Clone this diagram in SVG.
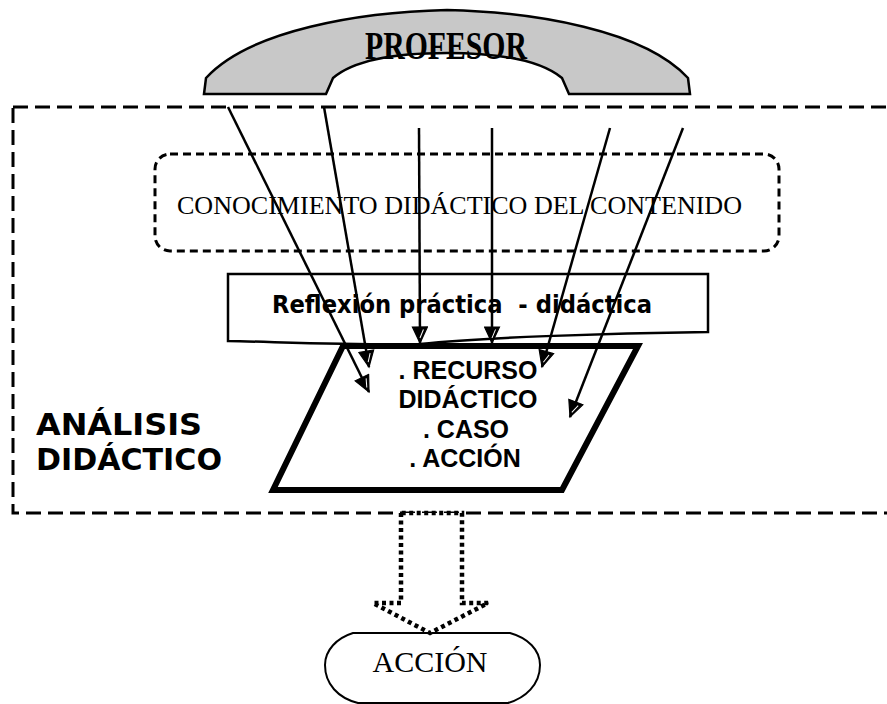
<svg xmlns="http://www.w3.org/2000/svg" width="887" height="704" viewBox="0 0 887 704">
<style>
.serif{font-family:"Liberation Serif","Times New Roman",serif;fill:#000}
.sans{font-family:"Liberation Sans",Arial,sans-serif;font-weight:bold;fill:#000}
.conn{stroke:#000;stroke-width:2.5;fill:none;marker-end:url(#ah)}
</style>
<defs>
<marker id="ah" viewBox="-1 -1 19 17" refX="16" refY="7.5" markerWidth="19" markerHeight="17" markerUnits="userSpaceOnUse" orient="auto">
<path d="M0,0 L16,7.5 L0,15 Z" fill="#000" stroke="#000" stroke-width="1.2" stroke-linejoin="miter"/>
<path d="M2.5,4 L11,7.5" stroke="#fff" stroke-width="1"/>
</marker>
</defs>
<rect width="887" height="704" fill="#fff"/>

<g id="analisis">
<rect x="13" y="107" width="900" height="406" fill="none" stroke="#000" stroke-width="3" stroke-dasharray="15 7"/>
<text x="36" y="435" textLength="166" lengthAdjust="spacingAndGlyphs" style="font-family:'DejaVu Sans',Verdana,sans-serif;font-weight:bold;font-size:30px">ANÁLISIS</text>
<text x="36" y="470" textLength="186" lengthAdjust="spacingAndGlyphs" style="font-family:'DejaVu Sans',Verdana,sans-serif;font-weight:bold;font-size:30px">DIDÁCTICO</text>
</g>

<g id="profesor">
<path d="M204,94 L206,78 C 250,30 360,12 447,10 C 534,12 644,30 688,78 L690,94 L569,94 L562,78 C 540,60 500,53 447,53 C 394,53 354,60 333,78 L326,94 Z" fill="#c8c8c8" stroke="#000" stroke-width="2.5"/>
<text class="serif" x="446" y="59" text-anchor="middle" textLength="162" lengthAdjust="spacingAndGlyphs" style="font-size:40px;font-weight:bold">PROFESOR</text>
</g>

<g id="conocimiento">
<rect x="155" y="154" width="624" height="97" rx="15" fill="none" stroke="#000" stroke-width="3" stroke-dasharray="8 5"/>
<text class="serif" x="177" y="214" textLength="565" lengthAdjust="spacingAndGlyphs" style="font-size:26px">CONOCIMIENTO DIDÁCTICO DEL CONTENIDO</text>
</g>

<g id="reflexion">
<path d="M228,274 L708,274 L708,332 C 600,333 480,338 420,344 C 350,345 280,342 228,341 Z" fill="#fff" stroke="#000" stroke-width="2.5"/>
<text x="272" y="313" textLength="380" lengthAdjust="spacingAndGlyphs" style="font-family:'DejaVu Sans Condensed','DejaVu Sans','Comic Sans MS',sans-serif;font-weight:bold;font-size:24px;white-space:pre" xml:space="preserve">Reflexión práctica  - didáctica</text>
</g>

<g id="recurso">
<path d="M343,346 L638,346 L562,490 L273,490 Z" fill="#fff" stroke="#000" stroke-width="6"/>
<text class="sans" x="468" y="379" text-anchor="middle" style="font-size:25px">. RECURSO</text>
<text class="sans" x="468" y="408" text-anchor="middle" style="font-size:25px">DIDÁCTICO</text>
<text class="sans" x="466" y="438" text-anchor="middle" style="font-size:25px">. CASO</text>
<text class="sans" x="465" y="467" text-anchor="middle" style="font-size:25px">. ACCIÓN</text>
</g>

<g id="accion">
<path d="M353,633 L510,633 C 528,638 540,650 540,665 C 540,685 525,698 508,703 L358,703 C 338,698 325,684 325,665 C 325,650 337,638 353,633 Z" fill="#fff" stroke="#000" stroke-width="2"/>
<text class="serif" x="430" y="672" text-anchor="middle" style="font-size:30px">ACCIÓN</text>
</g>

<g id="connectors">
<line class="conn" x1="228" y1="107" x2="369" y2="392"/>
<line class="conn" x1="324" y1="107" x2="369" y2="367"/>
<line class="conn" x1="419" y1="128" x2="420" y2="343"/>
<line class="conn" x1="492" y1="128" x2="492" y2="343"/>
<line class="conn" x1="610" y1="128" x2="542" y2="367"/>
<line class="conn" x1="683" y1="128" x2="570" y2="417"/>
<path d="M401,513 L401,603 L373,603 L430,633 L488,603 L462,603 L462,513 Z" fill="#fff" stroke="#000" stroke-width="4.5" stroke-dasharray="4 3.5"/>
</g>
</svg>
